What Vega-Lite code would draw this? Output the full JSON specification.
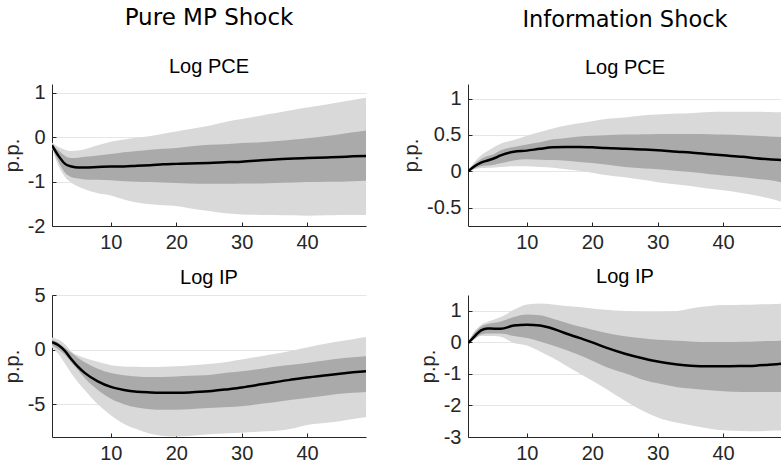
{
  "$schema": "https://vega.github.io/schema/vega-lite/v6.json",
  "padding": {"left": 2, "top": 6, "right": 0, "bottom": 0},
  "background": "white",
  "bounds": "flush",
  "columns": 2,
  "spacing": {"row": 69, "column": 102},
  "config": {
    "view": {"stroke": null},
    "axis": {
      "domainColor": "#262626", "domainWidth": 1,
      "tickColor": "#262626", "tickSize": -4, "tickWidth": 1,
      "labelFont": "Liberation Sans", "labelFontSize": 20, "labelColor": "#262626", "labelPadding": 11, "labelOverlap": false, "labelSeparation": 0,
      "titleFont": "Liberation Sans", "titleFontSize": 20, "titleFontWeight": "normal", "titleColor": "#262626",
      "gridColor": "#e6e6e6", "gridWidth": 1,
      "labelExpr": "'' + datum.value"
    },
    "axisX": {"grid": false, "labelPadding": 10},
    "axisY": {"grid": true, "titlePadding": 5},
    "title": {"font": "Liberation Sans", "fontSize": 20, "fontWeight": "normal", "color": "black", "anchor": "middle", "frame": "group", "offset": 6}
  },
  "data": {"values": [
    {"panel": "A", "t": 1, "l90": -0.25, "l68": -0.22, "m": -0.18, "h68": -0.15, "h90": -0.12},
    {"panel": "A", "t": 2, "l90": -0.65, "l68": -0.55, "m": -0.42, "h68": -0.3, "h90": -0.22},
    {"panel": "A", "t": 3, "l90": -0.9, "l68": -0.8, "m": -0.6, "h68": -0.42, "h90": -0.28},
    {"panel": "A", "t": 4, "l90": -1.03, "l68": -0.9, "m": -0.66, "h68": -0.47, "h90": -0.31},
    {"panel": "A", "t": 5, "l90": -1.11, "l68": -0.93, "m": -0.68, "h68": -0.46, "h90": -0.3},
    {"panel": "A", "t": 6, "l90": -1.17, "l68": -0.95, "m": -0.68, "h68": -0.44, "h90": -0.27},
    {"panel": "A", "t": 8, "l90": -1.26, "l68": -0.96, "m": -0.67, "h68": -0.41, "h90": -0.18},
    {"panel": "A", "t": 10, "l90": -1.31, "l68": -0.97, "m": -0.66, "h68": -0.38, "h90": -0.1},
    {"panel": "A", "t": 12, "l90": -1.4, "l68": -0.99, "m": -0.66, "h68": -0.34, "h90": -0.05},
    {"panel": "A", "t": 14, "l90": -1.47, "l68": -1.0, "m": -0.64, "h68": -0.31, "h90": -0.01},
    {"panel": "A", "t": 16, "l90": -1.51, "l68": -1.01, "m": -0.63, "h68": -0.28, "h90": 0.03},
    {"panel": "A", "t": 18, "l90": -1.53, "l68": -1.02, "m": -0.61, "h68": -0.26, "h90": 0.08},
    {"panel": "A", "t": 20, "l90": -1.55, "l68": -1.03, "m": -0.6, "h68": -0.24, "h90": 0.13},
    {"panel": "A", "t": 22, "l90": -1.6, "l68": -1.04, "m": -0.59, "h68": -0.21, "h90": 0.18},
    {"panel": "A", "t": 25, "l90": -1.66, "l68": -1.05, "m": -0.58, "h68": -0.17, "h90": 0.26},
    {"panel": "A", "t": 28, "l90": -1.72, "l68": -1.05, "m": -0.56, "h68": -0.15, "h90": 0.36},
    {"panel": "A", "t": 30, "l90": -1.74, "l68": -1.04, "m": -0.55, "h68": -0.13, "h90": 0.41},
    {"panel": "A", "t": 33, "l90": -1.75, "l68": -1.04, "m": -0.52, "h68": -0.11, "h90": 0.49},
    {"panel": "A", "t": 35, "l90": -1.75, "l68": -1.03, "m": -0.5, "h68": -0.09, "h90": 0.54},
    {"panel": "A", "t": 38, "l90": -1.76, "l68": -1.02, "m": -0.48, "h68": -0.05, "h90": 0.62},
    {"panel": "A", "t": 40, "l90": -1.77, "l68": -1.01, "m": -0.47, "h68": -0.02, "h90": 0.67},
    {"panel": "A", "t": 43, "l90": -1.76, "l68": -1.0, "m": -0.455, "h68": 0.03, "h90": 0.74},
    {"panel": "A", "t": 45, "l90": -1.75, "l68": -1.0, "m": -0.445, "h68": 0.07, "h90": 0.79},
    {"panel": "A", "t": 47, "l90": -1.75, "l68": -0.99, "m": -0.43, "h68": 0.11, "h90": 0.84},
    {"panel": "A", "t": 49, "l90": -1.75, "l68": -0.98, "m": -0.42, "h68": 0.15, "h90": 0.89},

    {"panel": "B", "t": 1, "l90": 0.0, "l68": 0.0, "m": 0.0, "h68": 0.0, "h90": 0.01},
    {"panel": "B", "t": 2, "l90": 0.03, "l68": 0.04, "m": 0.07, "h68": 0.1, "h90": 0.13},
    {"panel": "B", "t": 3, "l90": 0.045, "l68": 0.07, "m": 0.12, "h68": 0.17, "h90": 0.22},
    {"panel": "B", "t": 4, "l90": 0.05, "l68": 0.08, "m": 0.15, "h68": 0.21, "h90": 0.28},
    {"panel": "B", "t": 5, "l90": 0.055, "l68": 0.09, "m": 0.18, "h68": 0.24, "h90": 0.335},
    {"panel": "B", "t": 6, "l90": 0.06, "l68": 0.11, "m": 0.22, "h68": 0.29, "h90": 0.38},
    {"panel": "B", "t": 8, "l90": 0.07, "l68": 0.15, "m": 0.27, "h68": 0.335, "h90": 0.43},
    {"panel": "B", "t": 10, "l90": 0.07, "l68": 0.165, "m": 0.285, "h68": 0.37, "h90": 0.49},
    {"panel": "B", "t": 12, "l90": 0.06, "l68": 0.16, "m": 0.31, "h68": 0.4, "h90": 0.54},
    {"panel": "B", "t": 14, "l90": 0.05, "l68": 0.155, "m": 0.33, "h68": 0.44, "h90": 0.59},
    {"panel": "B", "t": 16, "l90": 0.03, "l68": 0.145, "m": 0.335, "h68": 0.46, "h90": 0.63},
    {"panel": "B", "t": 18, "l90": 0.01, "l68": 0.13, "m": 0.335, "h68": 0.48, "h90": 0.66},
    {"panel": "B", "t": 20, "l90": -0.02, "l68": 0.115, "m": 0.33, "h68": 0.49, "h90": 0.69},
    {"panel": "B", "t": 22, "l90": -0.05, "l68": 0.095, "m": 0.32, "h68": 0.495, "h90": 0.72},
    {"panel": "B", "t": 25, "l90": -0.08, "l68": 0.06, "m": 0.31, "h68": 0.505, "h90": 0.74},
    {"panel": "B", "t": 28, "l90": -0.12, "l68": 0.04, "m": 0.3, "h68": 0.51, "h90": 0.77},
    {"panel": "B", "t": 30, "l90": -0.15, "l68": 0.03, "m": 0.29, "h68": 0.515, "h90": 0.78},
    {"panel": "B", "t": 33, "l90": -0.18, "l68": 0.005, "m": 0.27, "h68": 0.515, "h90": 0.795},
    {"panel": "B", "t": 35, "l90": -0.2, "l68": -0.01, "m": 0.26, "h68": 0.515, "h90": 0.8},
    {"panel": "B", "t": 38, "l90": -0.24, "l68": -0.04, "m": 0.235, "h68": 0.51, "h90": 0.815},
    {"panel": "B", "t": 40, "l90": -0.26, "l68": -0.055, "m": 0.22, "h68": 0.505, "h90": 0.82},
    {"panel": "B", "t": 43, "l90": -0.3, "l68": -0.08, "m": 0.2, "h68": 0.495, "h90": 0.82},
    {"panel": "B", "t": 45, "l90": -0.33, "l68": -0.1, "m": 0.18, "h68": 0.49, "h90": 0.82},
    {"panel": "B", "t": 47, "l90": -0.37, "l68": -0.12, "m": 0.165, "h68": 0.48, "h90": 0.815},
    {"panel": "B", "t": 49, "l90": -0.42, "l68": -0.15, "m": 0.155, "h68": 0.47, "h90": 0.81},

    {"panel": "C", "t": 1, "l90": 0.2, "l68": 0.4, "m": 0.68, "h68": 0.9, "h90": 1.1},
    {"panel": "C", "t": 2, "l90": -0.4, "l68": 0.0, "m": 0.4, "h68": 0.61, "h90": 0.9},
    {"panel": "C", "t": 3, "l90": -1.3, "l68": -0.5, "m": -0.14, "h68": 0.15, "h90": 0.5},
    {"panel": "C", "t": 4, "l90": -2.2, "l68": -1.2, "m": -0.9, "h68": -0.3, "h90": -0.2},
    {"panel": "C", "t": 5, "l90": -3.0, "l68": -1.9, "m": -1.58, "h68": -0.76, "h90": -0.55},
    {"panel": "C", "t": 6, "l90": -3.7, "l68": -2.6, "m": -2.13, "h68": -1.16, "h90": -0.76},
    {"panel": "C", "t": 8, "l90": -5.0, "l68": -3.7, "m": -2.9, "h68": -1.75, "h90": -1.12},
    {"panel": "C", "t": 10, "l90": -6.0, "l68": -4.5, "m": -3.41, "h68": -2.15, "h90": -1.43},
    {"panel": "C", "t": 12, "l90": -6.8, "l68": -5.0, "m": -3.69, "h68": -2.35, "h90": -1.55},
    {"panel": "C", "t": 14, "l90": -7.3, "l68": -5.3, "m": -3.85, "h68": -2.45, "h90": -1.58},
    {"panel": "C", "t": 16, "l90": -7.7, "l68": -5.45, "m": -3.92, "h68": -2.5, "h90": -1.6},
    {"panel": "C", "t": 18, "l90": -7.9, "l68": -5.5, "m": -3.96, "h68": -2.5, "h90": -1.57},
    {"panel": "C", "t": 20, "l90": -7.95, "l68": -5.5, "m": -3.95, "h68": -2.45, "h90": -1.52},
    {"panel": "C", "t": 22, "l90": -7.9, "l68": -5.45, "m": -3.92, "h68": -2.4, "h90": -1.45},
    {"panel": "C", "t": 25, "l90": -7.75, "l68": -5.35, "m": -3.82, "h68": -2.32, "h90": -1.31},
    {"panel": "C", "t": 28, "l90": -7.65, "l68": -5.25, "m": -3.62, "h68": -2.1, "h90": -1.1},
    {"panel": "C", "t": 30, "l90": -7.6, "l68": -5.18, "m": -3.47, "h68": -1.98, "h90": -0.9},
    {"panel": "C", "t": 33, "l90": -7.5, "l68": -4.95, "m": -3.18, "h68": -1.75, "h90": -0.6},
    {"panel": "C", "t": 35, "l90": -7.45, "l68": -4.81, "m": -2.98, "h68": -1.58, "h90": -0.4},
    {"panel": "C", "t": 38, "l90": -7.2, "l68": -4.57, "m": -2.72, "h68": -1.37, "h90": -0.05},
    {"panel": "C", "t": 40, "l90": -6.9, "l68": -4.42, "m": -2.55, "h68": -1.22, "h90": 0.2},
    {"panel": "C", "t": 43, "l90": -6.7, "l68": -4.2, "m": -2.34, "h68": -0.98, "h90": 0.55},
    {"panel": "C", "t": 45, "l90": -6.55, "l68": -4.05, "m": -2.2, "h68": -0.82, "h90": 0.76},
    {"panel": "C", "t": 47, "l90": -6.35, "l68": -3.95, "m": -2.08, "h68": -0.7, "h90": 0.95},
    {"panel": "C", "t": 49, "l90": -6.2, "l68": -3.87, "m": -1.98, "h68": -0.61, "h90": 1.15},

    {"panel": "D", "t": 1, "l90": -0.05, "l68": -0.04, "m": -0.03, "h68": -0.02, "h90": 0.0},
    {"panel": "D", "t": 2, "l90": 0.12, "l68": 0.1, "m": 0.19, "h68": 0.3, "h90": 0.35},
    {"panel": "D", "t": 3, "l90": 0.2, "l68": 0.25, "m": 0.38, "h68": 0.5, "h90": 0.55},
    {"panel": "D", "t": 4, "l90": 0.2, "l68": 0.28, "m": 0.44, "h68": 0.58, "h90": 0.65},
    {"panel": "D", "t": 5, "l90": 0.2, "l68": 0.28, "m": 0.43, "h68": 0.62, "h90": 0.72},
    {"panel": "D", "t": 6, "l90": 0.18, "l68": 0.28, "m": 0.43, "h68": 0.66, "h90": 0.8},
    {"panel": "D", "t": 8, "l90": -0.02, "l68": 0.2, "m": 0.53, "h68": 0.8, "h90": 1.03},
    {"panel": "D", "t": 10, "l90": -0.1, "l68": 0.14, "m": 0.56, "h68": 0.88, "h90": 1.2},
    {"panel": "D", "t": 12, "l90": -0.29, "l68": 0.03, "m": 0.53, "h68": 0.86, "h90": 1.23},
    {"panel": "D", "t": 14, "l90": -0.5, "l68": -0.1, "m": 0.43, "h68": 0.75, "h90": 1.2},
    {"panel": "D", "t": 16, "l90": -0.74, "l68": -0.24, "m": 0.28, "h68": 0.62, "h90": 1.15},
    {"panel": "D", "t": 18, "l90": -0.98, "l68": -0.4, "m": 0.14, "h68": 0.5, "h90": 1.12},
    {"panel": "D", "t": 20, "l90": -1.22, "l68": -0.58, "m": 0.0, "h68": 0.4, "h90": 1.07},
    {"panel": "D", "t": 22, "l90": -1.46, "l68": -0.77, "m": -0.16, "h68": 0.3, "h90": 1.03},
    {"panel": "D", "t": 25, "l90": -1.85, "l68": -0.98, "m": -0.36, "h68": 0.19, "h90": 0.99},
    {"panel": "D", "t": 28, "l90": -2.2, "l68": -1.2, "m": -0.52, "h68": 0.12, "h90": 0.97},
    {"panel": "D", "t": 30, "l90": -2.38, "l68": -1.3, "m": -0.61, "h68": 0.08, "h90": 0.97},
    {"panel": "D", "t": 33, "l90": -2.55, "l68": -1.42, "m": -0.7, "h68": 0.05, "h90": 0.99},
    {"panel": "D", "t": 35, "l90": -2.63, "l68": -1.46, "m": -0.74, "h68": 0.03, "h90": 1.07},
    {"panel": "D", "t": 38, "l90": -2.74, "l68": -1.52, "m": -0.76, "h68": 0.01, "h90": 1.15},
    {"panel": "D", "t": 40, "l90": -2.79, "l68": -1.55, "m": -0.76, "h68": 0.01, "h90": 1.18},
    {"panel": "D", "t": 43, "l90": -2.81, "l68": -1.57, "m": -0.75, "h68": 0.02, "h90": 1.19},
    {"panel": "D", "t": 45, "l90": -2.82, "l68": -1.57, "m": -0.74, "h68": 0.03, "h90": 1.2},
    {"panel": "D", "t": 47, "l90": -2.8, "l68": -1.57, "m": -0.71, "h68": 0.04, "h90": 1.21},
    {"panel": "D", "t": 49, "l90": -2.79, "l68": -1.57, "m": -0.68, "h68": 0.05, "h90": 1.22}
  ]},
  "concat": [
    {
      "width": 314, "height": 142,
      "title": {"text": "Pure MP Shock", "subtitle": "Log PCE", "font": "DejaVu Sans", "fontSize": 23, "subtitleFont": "Liberation Sans", "subtitleFontSize": 20, "subtitleColor": "black", "subtitlePadding": 27},
      "transform": [{"filter": "datum.panel === 'A'"}],
      "encoding": {"x": {"field": "t", "type": "quantitative", "scale": {"domain": [1, 49], "nice": false}, "axis": {"values": [10, 20, 30, 40], "tickCount": 4, "title": null}}},
      "layer": [
        {"mark": {"type": "area", "color": "#d9d9d9", "interpolate": "monotone", "clip": true},
         "encoding": {"y": {"field": "l90", "type": "quantitative", "title": "p.p.", "scale": {"domain": [-2, 1.2], "nice": false}, "axis": {"values": [-2, -1, 0, 1], "tickCount": 4, "labelOverlap": false}}, "y2": {"field": "h90"}}},
        {"mark": {"type": "area", "color": "#aaaaaa", "interpolate": "monotone", "clip": true},
         "encoding": {"y": {"field": "l68", "type": "quantitative", "title": "p.p.", "axis": {"values": [-2, -1, 0, 1], "tickCount": 4, "labelOverlap": false}}, "y2": {"field": "h68"}}},
        {"mark": {"type": "rule", "color": "black", "strokeWidth": 3},
         "encoding": {"y": {"datum": 0}}},
        {"mark": {"type": "line", "color": "black", "strokeWidth": 2.5, "interpolate": "monotone", "clip": true},
         "encoding": {"y": {"field": "m", "type": "quantitative", "title": "p.p.", "axis": {"values": [-2, -1, 0, 1], "tickCount": 4, "labelOverlap": false}}}}
      ]
    },
    {
      "width": 314, "height": 142,
      "title": {"text": "Information Shock", "subtitle": "Log PCE", "font": "DejaVu Sans", "fontSize": 22.5, "subtitleFont": "Liberation Sans", "subtitleFontSize": 20, "subtitleColor": "black", "subtitlePadding": 27},
      "transform": [{"filter": "datum.panel === 'B'"}],
      "encoding": {"x": {"field": "t", "type": "quantitative", "scale": {"domain": [1, 49], "nice": false}, "axis": {"values": [10, 20, 30, 40], "tickCount": 4, "title": null}}},
      "layer": [
        {"mark": {"type": "area", "color": "#d9d9d9", "interpolate": "monotone", "clip": true},
         "encoding": {"y": {"field": "l90", "type": "quantitative", "title": "p.p.", "scale": {"domain": [-0.75, 1.2], "nice": false}, "axis": {"values": [-0.5, 0, 0.5, 1], "tickCount": 4, "labelOverlap": false}}, "y2": {"field": "h90"}}},
        {"mark": {"type": "area", "color": "#aaaaaa", "interpolate": "monotone", "clip": true},
         "encoding": {"y": {"field": "l68", "type": "quantitative", "title": "p.p.", "axis": {"values": [-0.5, 0, 0.5, 1], "tickCount": 4, "labelOverlap": false}}, "y2": {"field": "h68"}}},
        {"mark": {"type": "rule", "color": "black", "strokeWidth": 3},
         "encoding": {"y": {"datum": 0}}},
        {"mark": {"type": "line", "color": "black", "strokeWidth": 2.5, "interpolate": "monotone", "clip": true},
         "encoding": {"y": {"field": "m", "type": "quantitative", "title": "p.p.", "axis": {"values": [-0.5, 0, 0.5, 1], "tickCount": 4, "labelOverlap": false}}}}
      ]
    },
    {
      "width": 314, "height": 142,
      "title": {"text": "Log IP", "offset": -3},
      "transform": [{"filter": "datum.panel === 'C'"}],
      "encoding": {"x": {"field": "t", "type": "quantitative", "scale": {"domain": [1, 49], "nice": false}, "axis": {"values": [10, 20, 30, 40], "tickCount": 4, "title": null}}},
      "layer": [
        {"mark": {"type": "area", "color": "#d9d9d9", "interpolate": "monotone", "clip": true},
         "encoding": {"y": {"field": "l90", "type": "quantitative", "title": "p.p.", "scale": {"domain": [-8, 5], "nice": false}, "axis": {"values": [-5, 0, 5], "tickCount": 3, "labelOverlap": false}}, "y2": {"field": "h90"}}},
        {"mark": {"type": "area", "color": "#aaaaaa", "interpolate": "monotone", "clip": true},
         "encoding": {"y": {"field": "l68", "type": "quantitative", "title": "p.p.", "axis": {"values": [-5, 0, 5], "tickCount": 3, "labelOverlap": false}}, "y2": {"field": "h68"}}},
        {"mark": {"type": "rule", "color": "black", "strokeWidth": 3},
         "encoding": {"y": {"datum": 0}}},
        {"mark": {"type": "line", "color": "black", "strokeWidth": 2.5, "interpolate": "monotone", "clip": true},
         "encoding": {"y": {"field": "m", "type": "quantitative", "title": "p.p.", "axis": {"values": [-5, 0, 5], "tickCount": 3, "labelOverlap": false}}}}
      ]
    },
    {
      "width": 314, "height": 142,
      "title": {"text": "Log IP", "offset": 8},
      "transform": [{"filter": "datum.panel === 'D'"}],
      "encoding": {"x": {"field": "t", "type": "quantitative", "scale": {"domain": [1, 49], "nice": false}, "axis": {"values": [10, 20, 30, 40], "tickCount": 4, "title": null}}},
      "layer": [
        {"mark": {"type": "area", "color": "#d9d9d9", "interpolate": "monotone", "clip": true},
         "encoding": {"y": {"field": "l90", "type": "quantitative", "title": "p.p.", "scale": {"domain": [-3, 1.5], "nice": false}, "axis": {"values": [-3, -2, -1, 0, 1], "tickCount": 5, "labelOverlap": false}}, "y2": {"field": "h90"}}},
        {"mark": {"type": "area", "color": "#aaaaaa", "interpolate": "monotone", "clip": true},
         "encoding": {"y": {"field": "l68", "type": "quantitative", "title": "p.p.", "axis": {"values": [-3, -2, -1, 0, 1], "tickCount": 5, "labelOverlap": false}}, "y2": {"field": "h68"}}},
        {"mark": {"type": "rule", "color": "black", "strokeWidth": 3},
         "encoding": {"y": {"datum": 0}}},
        {"mark": {"type": "line", "color": "black", "strokeWidth": 2.5, "interpolate": "monotone", "clip": true},
         "encoding": {"y": {"field": "m", "type": "quantitative", "title": "p.p.", "axis": {"values": [-3, -2, -1, 0, 1], "tickCount": 5, "labelOverlap": false}}}}
      ]
    }
  ]
}
